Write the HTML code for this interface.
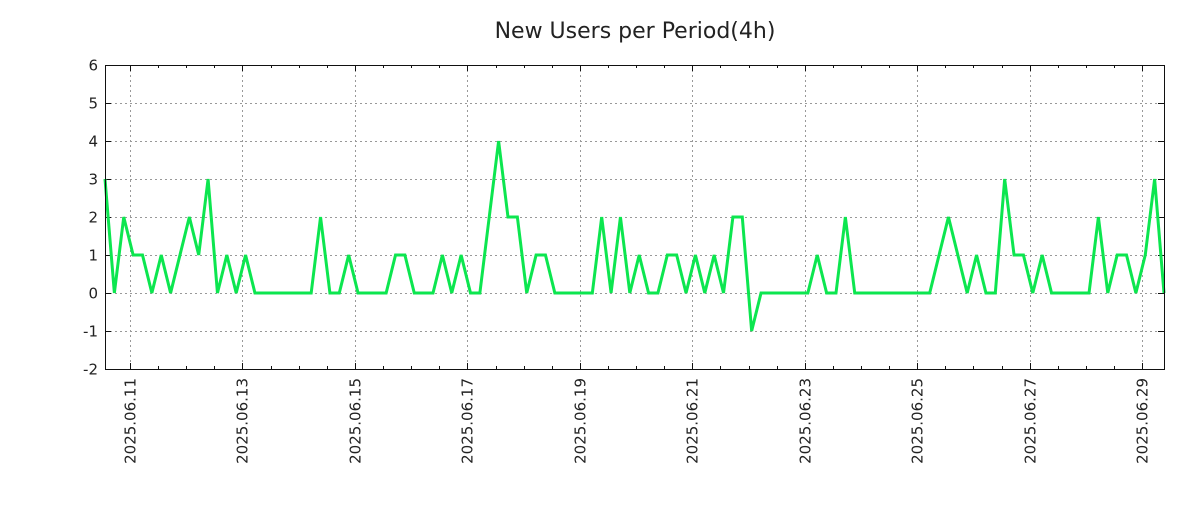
<!DOCTYPE html>
<html><head><meta charset="utf-8"><style>
body{margin:0;background:#fff;}
svg text{font-family:"DejaVu Sans","Liberation Sans",sans-serif;fill:#222;}
</style></head><body>
<svg width="1200" height="500">
<text x="635" y="38" text-anchor="middle" font-size="22">New Users per Period(4h)</text>
<g id="grid"></g>
<g id="axes"></g>
<polyline id="line" fill="none" stroke="#0ce64f" stroke-width="3" stroke-linejoin="miter"/>
<rect x="105.5" y="65.5" width="1059" height="304" fill="none" stroke="#111" stroke-width="1"/>
</svg>
<script>
const values=[3,0,2,1,1,0,1,0,1,2,1,3,0,1,0,1,0,0,0,0,0,0,0,2,0,0,1,0,0,0,0,1,1,0,0,0,1,0,1,0,0,2,4,2,2,0,1,1,0,0,0,0,0,2,0,2,0,1,0,0,1,1,0,1,0,1,0,2,2,-1,0,0,0,0,0,0,1,0,0,2,0,0,0,0,0,0,0,0,0,1,2,1,0,1,0,0,3,1,1,0,1,0,0,0,0,0,2,0,1,1,0,1,3,0];
const yTicks=[-2,-1,0,1,2,3,4,5,6];
const dateLabels=["2025.06.11","2025.06.13","2025.06.15","2025.06.17","2025.06.19","2025.06.21","2025.06.23","2025.06.25","2025.06.27","2025.06.29"];
const firstLabelIndex=2.67; // index position of first date label
const X0=105,X1=1164,Y0=369,Y1=65,ymin=-2,ymax=6;
const xs=i=>X0+i*(X1-X0)/(values.length-1);
const ys=v=>Y0-(v-ymin)*(Y0-Y1)/(ymax-ymin);
const NS="http://www.w3.org/2000/svg";
const grid=document.getElementById('grid'),axes=document.getElementById('axes');
function mk(tag,attrs,parent){const e=document.createElementNS(NS,tag);for(const k in attrs)e.setAttribute(k,attrs[k]);parent.appendChild(e);return e;}
yTicks.forEach(t=>{const y=Math.round(ys(t))+0.5;
 const g=mk('line',{x1:X0,x2:X1,y1:y,y2:y,stroke:'#999','stroke-dasharray':'2,3'},grid);
 
 
 mk('line',{x1:X0,x2:X0+6,y1:y,y2:y,stroke:'#111'},axes);
 mk('line',{x1:X1-6,x2:X1,y1:y,y2:y,stroke:'#111'},axes);
 const tx=mk('text',{x:98,y:y+5,'text-anchor':'end','font-size':15},axes);
 tx.textContent=t;
 
 
});
const step=(X1-X0)/(values.length-1);
dateLabels.forEach((d,k)=>{const x=Math.round(xs(firstLabelIndex+k*12))+0.5;
 const g=mk('line',{x1:x,x2:x,y1:Y1,y2:Y0,stroke:'#999','stroke-dasharray':'2,3'},grid);
 
 
 mk('line',{x1:x,x2:x,y1:Y0-6,y2:Y0,stroke:'#111'},axes);
 mk('line',{x1:x,x2:x,y1:Y1,y2:Y1+6,stroke:'#111'},axes);
 const tx=mk('text',{x:0,y:0,'text-anchor':'end','font-size':15,transform:`translate(${x+5},378) rotate(-90)`},axes);
 tx.textContent=d;
 
 
});
for(let m=firstLabelIndex-3;m<values.length;m+=3){const x=Math.round(xs(m))+0.5;if(x<=X0||x>=X1)continue;
 mk('line',{x1:x,x2:x,y1:Y0-3,y2:Y0,stroke:'#111'},axes);
 mk('line',{x1:x,x2:x,y1:Y1,y2:Y1+3,stroke:'#111'},axes);}
document.getElementById('line').setAttribute('points',values.map((v,i)=>xs(i)+','+ys(v)).join(' '));
</script>
</body></html>
